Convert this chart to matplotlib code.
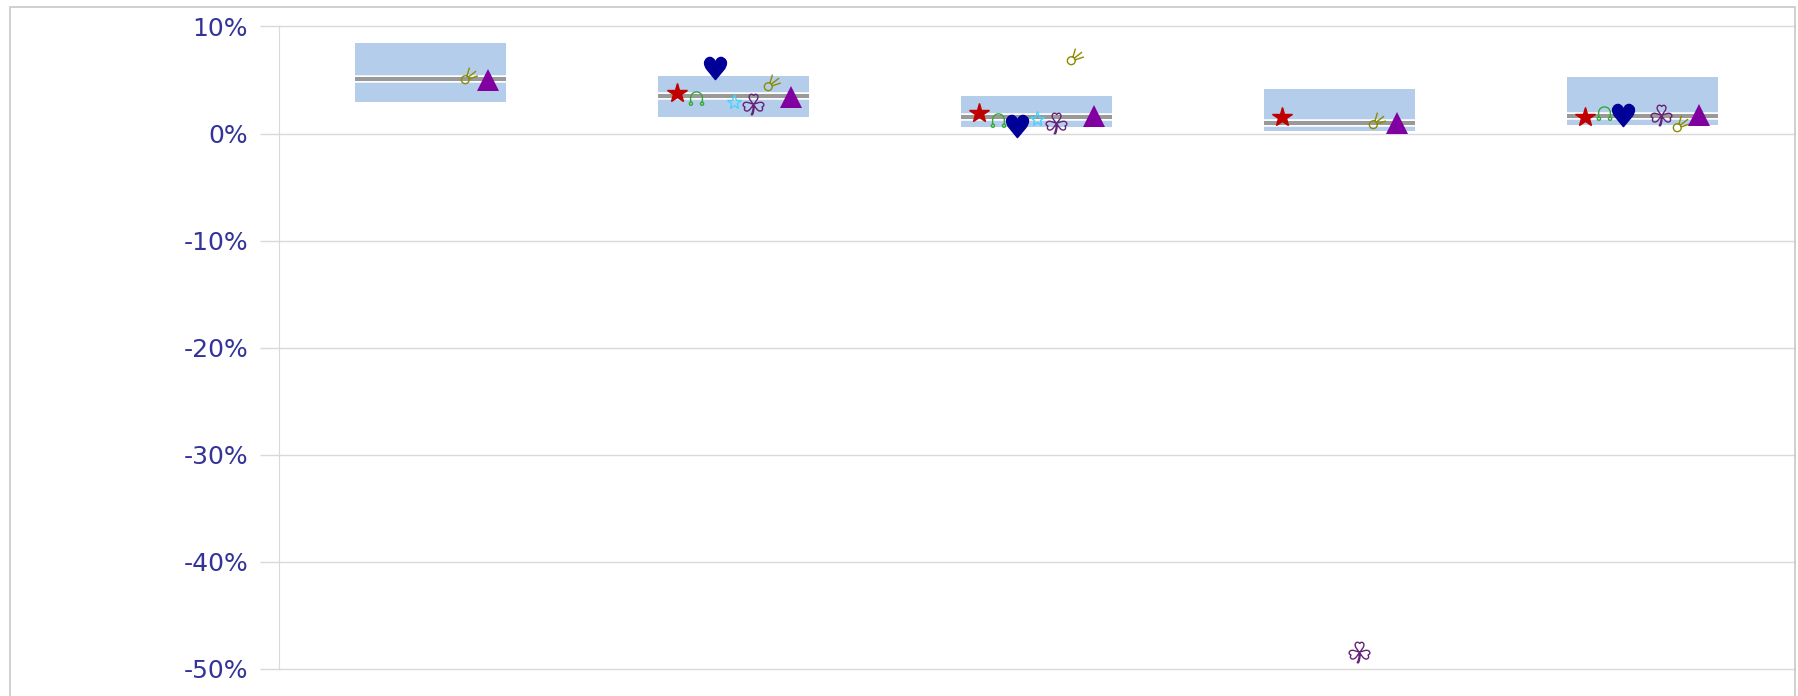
import numpy as np
import matplotlib

matplotlib.use('Agg')
import matplotlib.pyplot as plt
from matplotlib.path import Path
from matplotlib.patches import Rectangle

nan = np.nan

# five groups, values in %
box_upper = [8.48, 5.37, 3.50, 4.13, 5.25]
box_lower = [2.91, 1.54, 0.63, 0.26, 0.79]
box_median = [5.06, 3.50, 1.51, 1.01, 1.63]

red_star = [nan, 3.75, 1.89, 1.57, 1.51]
headphones = [nan, 3.19, 1.20, nan, 1.82]
heart = [nan, 6.12, 0.70, nan, 1.75]
cyan_star = [nan, 2.97, 1.33, nan, nan]
clover = [nan, 2.72, 1.01, -48.44, 1.73]
comet = [5.46, 4.84, 7.27, 1.26, 0.95]
triangle = [5.00, 3.44, 1.63, 1.01, 1.73]

y_ticks = [-50, -40, -30, -20, -10, 0, 10]


def headphone_path():
    arc = Path.arc(0, 180)
    arc = Path(arc.vertices + [0, 0.3], arc.codes)
    legs = Path([(-1, 0.3), (-1, -0.45), (1, 0.3), (1, -0.45)],
                [Path.MOVETO, Path.LINETO, Path.MOVETO, Path.LINETO])
    c1 = Path.circle((-0.95, -0.72), 0.27)
    c2 = Path.circle((0.95, -0.72), 0.27)
    return Path.make_compound_path(arc, legs, c1, c2)


def comet_path():
    head = Path.circle((-0.48, -0.48), 0.45)
    tails = Path([(-0.3, -0.08), (0.0, 0.9),
                  (-0.18, -0.22), (0.75, 0.5),
                  (-0.08, -0.4), (0.95, -0.05)],
                 [Path.MOVETO, Path.LINETO] * 3)
    return Path.make_compound_path(head, tails)


fig = plt.figure(figsize=(17.99, 6.96), dpi=100)
ax = fig.add_axes([279 / 1799, 27 / 696, (1794 - 279) / 1799, (669 - 26.5) / 696])

x = np.arange(len(box_upper))
heights = np.array(box_upper) - np.array(box_lower)
ax.bar(x, heights, bottom=box_lower, width=0.5, color='#B4CDEA', zorder=2)
ax.hlines(box_median, x - 0.25, x + 0.25, color='white', lw=5.4, zorder=3, capstyle='butt')
ax.hlines(box_median, x - 0.25, x + 0.25, color='#999999', lw=2.9, zorder=4, capstyle='butt')

step = 19 / 303
series = [
    (red_star, dict(marker='*', ms=15, color='#C00000', mec='#C00000')),
    (headphones, dict(marker=headphone_path(), ms=11, mfc='none', mec='#33AA33', mew=1.0)),
    (heart, dict(marker='$\u2665$', ms=16, color='#000099', mec='#000099')),
    (cyan_star, dict(marker='*', ms=11, mfc='none', mec='#44D4FF', mew=1.0)),
    (clover, dict(marker='$\u2618$', ms=15, mfc='none', mec='#662277', mew=1.0)),
    (comet, dict(marker=comet_path(), ms=12, mfc='none', mec='#8C8C00', mew=1.0)),
    (triangle, dict(marker='^', ms=16, color='#8000A0', mec='#8000A0', mew=0)),
]
for i, (vals, style) in enumerate(series):
    ax.plot(x + (i - 3) * step, vals, ls='none', zorder=5, **style)

ax.set_xlim(-0.5, 4.5)
ax.set_ylim(-50, 10)
ax.set_yticks(y_ticks)
ax.set_yticklabels(['%d%%' % v for v in y_ticks])
ax.set_xticks([])
ax.yaxis.grid(True, color='#D9D9D9', lw=1)
for gl in ax.get_ygridlines():
    gl.set_clip_on(False)
ax.set_axisbelow(True)
for s in ['top', 'right', 'bottom']:
    ax.spines[s].set_visible(False)
ax.spines['left'].set_color('#D9D9D9')
ax.tick_params(axis='y', direction='out', length=13.7, width=1, color='#D9D9D9',
               labelcolor='#333399', labelsize=18, pad=8.6)

fig.patches.append(Rectangle((10 / 1799, -0.1), (1795 - 10) / 1799, 1 - 7 / 696 + 0.1,
                             transform=fig.transFigure, fill=False, ec='#C8C8C8', lw=1.2))

fig.savefig('out.png', dpi=100)
